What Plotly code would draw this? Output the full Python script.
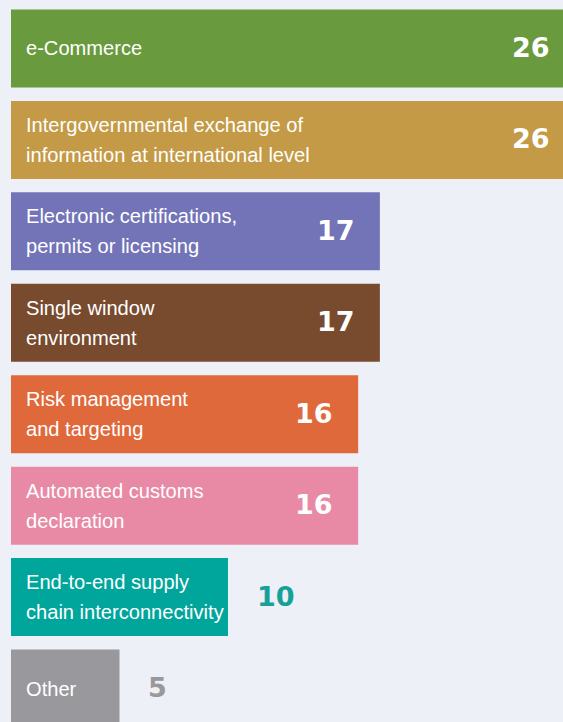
import plotly.graph_objects as go

CATEGORIES = [
    "e-Commerce",
    "Intergovernmental exchange of<br>information at international level",
    "Electronic certifications,<br>permits or licensing",
    "Single window<br>environment",
    "Risk management<br>and targeting",
    "Automated customs<br>declaration",
    "End-to-end supply<br>chain interconnectivity",
    "Other",
]
VALUES = [26, 26, 17, 17, 16, 16, 10, 5]
BAR_COLORS = ["#699a3e", "#c49a46", "#7274b7", "#784a2e", "#e0693c",
              "#e88aa6", "#00a59c", "#98989d"]
VALUE_INSIDE = [True, True, True, True, True, True, False, False]
VALUE_COLORS = ["#ffffff"] * 6 + ["#16a098", "#98989d"]

BG = "#eef0f8"
W, H = 563, 722
ML = 11
X_MAX = 25.44  # axis end: the longest bars run past the frame
PX_PER_UNIT = (W - ML) / X_MAX

fig = go.Figure(
    go.Bar(
        x=VALUES,
        y=CATEGORIES,
        orientation="h",
        marker=dict(color=BAR_COLORS, line=dict(width=0)),
        hoverinfo="skip",
    )
)

annotations = []
for cat, val, inside, vcol in zip(CATEGORIES, VALUES, VALUE_INSIDE, VALUE_COLORS):
    lines = cat.split("<br>")
    n = len(lines)
    for j, line in enumerate(lines):
        annotations.append(dict(
            x=0, y=cat, xref="x", yref="y", text=line, showarrow=False,
            xanchor="left", yanchor="middle", xshift=13,
            yshift=0 + ((n - 1) / 2 - j) * 30,
            font=dict(family="Liberation Sans, Arial, sans-serif", size=20.1, color="#ffffff"),
        ))
    if inside:
        xa = min(val, X_MAX)
        shift = -23 + (val - xa) * PX_PER_UNIT
        annotations.append(dict(
            x=xa, y=cat, xref="x", yref="y", text=str(val), showarrow=False,
            xanchor="right", yanchor="middle", xshift=shift, yshift=1,
            font=dict(family="DejaVu Sans", size=27, color=vcol, weight="bold"),
        ))
    else:
        annotations.append(dict(
            x=val, y=cat, xref="x", yref="y", text=str(val), showarrow=False,
            xanchor="left", yanchor="middle", xshift=27, yshift=1,
            font=dict(family="DejaVu Sans", size=27, color=vcol, weight="bold"),
        ))

fig.update_layout(
    width=W, height=H,
    margin=dict(l=ML, r=0, t=0, b=0, pad=0),
    paper_bgcolor=BG, plot_bgcolor=BG,
    bargap=0.147,
    showlegend=False,
    xaxis=dict(range=[0, X_MAX], visible=False, fixedrange=True),
    yaxis=dict(range=[7.366, -0.530], visible=False, fixedrange=True,
               categoryorder="array", categoryarray=CATEGORIES),
    annotations=annotations,
)

fig.write_html(
    "out.html",
    config={"displayModeBar": False},
    post_script="document.body.style.margin='0';document.body.style.overflow='hidden';"
                f"document.body.style.background='{BG}';",
)
